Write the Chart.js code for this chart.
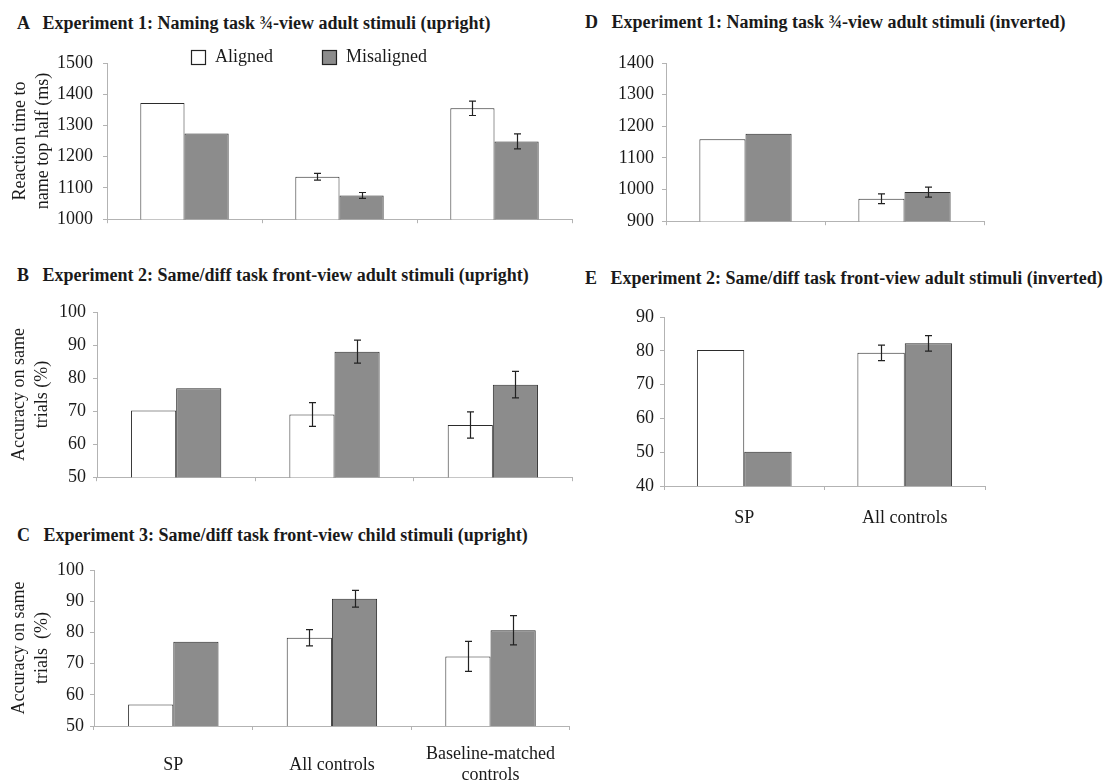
<!DOCTYPE html>
<html>
<head>
<meta charset="utf-8">
<script src="https://cdn.jsdelivr.net/npm/chart.js@4.4.0/dist/chart.umd.min.js"></script>
<style>
  body { margin: 0; background: #fff; width: 1119px; height: 783px; overflow: hidden; position: relative; }
  canvas { position: absolute; }
  .ttl { position: absolute; font: bold 18px "Liberation Serif", serif; line-height: 22px; color: #1a1a1a; white-space: pre; }
</style>
</head>
<body>
<div class="ttl" style="left:17px;top:12px">A   Experiment 1: Naming task ¾-view adult stimuli (upright)</div>
<div class="ttl" style="left:17px;top:264px">B   Experiment 2: Same/diff task front-view adult stimuli (upright)</div>
<div class="ttl" style="left:17px;top:524px">C   Experiment 3: Same/diff task front-view child stimuli (upright)</div>
<div class="ttl" style="left:585px;top:11px">D   Experiment 1: Naming task ¾-view adult stimuli (inverted)</div>
<div class="ttl" style="left:585px;top:267px">E   Experiment 2: Same/diff task front-view adult stimuli (inverted)</div>

<canvas id="chartA" width="580" height="240" style="left:0;top:0"></canvas>
<canvas id="chartB" width="580" height="245" style="left:0;top:250px"></canvas>
<canvas id="chartC" width="580" height="273" style="left:0;top:510px"></canvas>
<canvas id="chartD" width="420" height="240" style="left:575px;top:0"></canvas>
<canvas id="chartE" width="430" height="280" style="left:575px;top:255px"></canvas>

<script>
// series + categories
const seriesNames = ['Aligned', 'Misaligned'];
const groups3 = ['SP', 'All controls', ['Baseline-matched', 'controls']];
const groups2 = ['SP', 'All controls'];

// A - naming, 3/4 view, upright (ms)
const aAligned = [1372, 1136, 1355];
const aMisaligned = [1274, 1076, 1249];
const aAlignedErr = [null, 11, 23];
const aMisalignedErr = [null, 9.5, 24];
const aTicks = [1000, 1100, 1200, 1300, 1400, 1500];

// B - same/diff, adult front view, upright (%)
const bAligned = [70.2, 69.0, 65.8];
const bMisaligned = [76.9, 88.0, 78.0];
const bAlignedErr = [null, 3.6, 4];
const bMisalignedErr = [null, 3.5, 4];
const bTicks = [50, 60, 70, 80, 90, 100];

// C - same/diff, child front view, upright (%)
const cAligned = [56.9, 78.3, 72.3];
const cMisaligned = [77.0, 90.8, 80.7];
const cAlignedErr = [null, 2.6, 4.8];
const cMisalignedErr = [null, 2.7, 4.7];
const cTicks = [50, 60, 70, 80, 90, 100];

// D - naming, inverted (ms)
const dAligned = [1159, 971];
const dMisaligned = [1176, 992];
const dAlignedErr = [null, 15.5];
const dMisalignedErr = [null, 16];
const dTicks = [900, 1000, 1100, 1200, 1300, 1400];

// E - same/diff, inverted (%)
const eAligned = [80.2, 79.4];
const eMisaligned = [50.1, 82.2];
const eAlignedErr = [null, 2.3];
const eMisalignedErr = [null, 2.3];
const eTicks = [40, 50, 60, 70, 80, 90];

const serif = '"Liberation Serif", "Times New Roman", serif';
const ink = '#1a1a1a';
const axisGrey = '#b3b3b3';

// error bars drawn from each dataset's errors[] through the y scale
const errorBars = {
  id: 'errorBars',
  afterDatasetsDraw(chart) {
    const ctx = chart.ctx, y = chart.scales.y;
    ctx.save();
    ctx.strokeStyle = '#222';
    ctx.lineWidth = 1.2;
    chart.data.datasets.forEach((ds, i) => {
      chart.getDatasetMeta(i).data.forEach((bar, j) => {
        const e = ds.errors[j];
        if (e == null) return;
        const top = y.getPixelForValue(ds.data[j] + e);
        const bot = y.getPixelForValue(ds.data[j] - e);
        const x = Math.round(bar.x) + 0.5;
        ctx.beginPath();
        ctx.moveTo(x, top); ctx.lineTo(x, bot);
        ctx.moveTo(x - 3.5, top); ctx.lineTo(x + 3.5, top);
        ctx.moveTo(x - 3.5, bot); ctx.lineTo(x + 3.5, bot);
        ctx.stroke();
      });
    });
    ctx.restore();
  }
};

// legend with square boxes, sitting just above the plot (panel A only)
const boxLegend = {
  id: 'boxLegend',
  afterDraw(chart, args, opts) {
    const ctx = chart.ctx, area = chart.chartArea;
    let x = area.left + opts.offsetX;
    const cy = area.top + opts.offsetY;
    ctx.save();
    ctx.font = '18px ' + serif;
    ctx.textBaseline = 'middle';
    chart.data.datasets.forEach(ds => {
      ctx.fillStyle = ds.backgroundColor;
      ctx.fillRect(x, cy - 7.5, 15, 15);
      ctx.strokeStyle = '#222';
      ctx.lineWidth = 1.2;
      ctx.strokeRect(x + 0.5, cy - 7, 14, 14);
      ctx.fillStyle = ink;
      ctx.fillText(ds.label, x + 24, cy);
      x += 24 + ctx.measureText(ds.label).width + 49;
    });
    ctx.restore();
  }
};

function panel(id, p) {
  const dsBase = { borderColor: '#2b2b2b', borderWidth: 1, barPercentage: 1, categoryPercentage: p.cat };
  return new Chart(document.getElementById(id), {
    type: 'bar',
    data: {
      labels: p.labels,
      datasets: [
        Object.assign({ label: seriesNames[0], data: p.aligned, errors: p.alignedErr, backgroundColor: '#ffffff' }, dsBase),
        Object.assign({ label: seriesNames[1], data: p.misaligned, errors: p.misalignedErr, backgroundColor: '#8c8c8c' }, dsBase)
      ]
    },
    options: {
      responsive: false,
      animation: false,
      devicePixelRatio: 1,
      layout: { padding: { left: 0, top: p.top, right: p.right, bottom: 0 } },
      plugins: {
        legend: { display: false },
        tooltip: { enabled: false },
        boxLegend: { offsetX: 84, offsetY: -5.5 }
      },
      scales: {
        x: {
          grid: { drawOnChartArea: false, tickLength: 4, color: axisGrey, offset: true },
          border: { display: true, color: axisGrey },
          ticks: {
            display: p.showLabels, autoSkip: false, maxRotation: 0, crossAlign: 'center',
            padding: p.labelPad || 0, color: ink, font: { family: serif, size: 18, lineHeight: 1.2 }
          },
          afterFit: s => { s.height = p.xHeight; }
        },
        y: {
          min: p.ticks[0],
          max: p.ticks[p.ticks.length - 1],
          grid: { drawOnChartArea: false, tickLength: 4, color: axisGrey },
          border: { display: true, color: axisGrey },
          ticks: {
            stepSize: p.ticks[1] - p.ticks[0], padding: p.tickPad, color: ink,
            font: { family: serif, size: 18 },
            callback: v => String(v)
          },
          title: {
            display: !!p.yTitle, text: p.yTitle, color: ink,
            font: { family: serif, size: 18, lineHeight: 1.28 },
            padding: { top: p.yTitlePad || 0, bottom: 0 }
          },
          afterFit: s => { s.width = p.yWidth; }
        }
      }
    },
    plugins: p.legend ? [errorBars, boxLegend] : [errorBars]
  });
}

panel('chartA', {
  labels: groups3, aligned: aAligned, misaligned: aMisaligned,
  alignedErr: aAlignedErr, misalignedErr: aMisalignedErr, ticks: aTicks,
  yTitle: ['Reaction time to', 'name top half (ms)'], yTitlePad: 8.5,
  top: 63, right: 8, yWidth: 107, xHeight: 10, tickPad: 10, cat: 0.57,
  showLabels: false, legend: true
});

panel('chartB', {
  labels: groups3, aligned: bAligned, misaligned: bMisaligned,
  alignedErr: bAlignedErr, misalignedErr: bMisalignedErr, ticks: bTicks,
  yTitle: ['Accuracy on same', 'trials (%)'], yTitlePad: 7.5,
  top: 62, right: 8, yWidth: 97, xHeight: 10, tickPad: 7, cat: 0.57,
  showLabels: false
});

panel('chartC', {
  labels: groups3, aligned: cAligned, misaligned: cMisaligned,
  alignedErr: cAlignedErr, misalignedErr: cMisalignedErr, ticks: cTicks,
  yTitle: ['Accuracy on same', 'trials  (%)'], yTitlePad: 7.5,
  top: 60, right: 6, yWidth: 94, xHeight: 57, tickPad: 6, cat: 0.57,
  showLabels: true, labelPad: 24
});

panel('chartD', {
  labels: groups2, aligned: dAligned, misaligned: dMisaligned,
  alignedErr: dAlignedErr, misalignedErr: dMisalignedErr, ticks: dTicks,
  top: 63, right: 11, yWidth: 91, xHeight: 13, tickPad: 8, cat: 0.58,
  showLabels: false
});

panel('chartE', {
  labels: groups2, aligned: eAligned, misaligned: eMisaligned,
  alignedErr: eAlignedErr, misalignedErr: eMisalignedErr, ticks: eTicks,
  top: 62, right: 20, yWidth: 89, xHeight: 49, tickPad: 6, cat: 0.59,
  showLabels: true, labelPad: 28
});
</script>
</body>
</html>
